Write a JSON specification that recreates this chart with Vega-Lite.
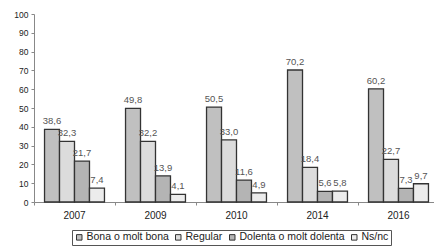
{
  "$schema": "https://vega.github.io/schema/vega-lite/v6.json",
  "width": 405,
  "height": 188,
  "autosize": "none",
  "padding": {"left": 34, "top": 14, "right": 0, "bottom": 47},
  "background": "white",
  "config": {
    "font": "Liberation Sans",
    "view": {"stroke": null},
    "locale": {"number": {"decimal": ",", "thousands": ".", "grouping": [3], "currency": ["", " €"]}}
  },
  "data": {"values": [
    {"year": "2007", "cat": "Bona o molt bona", "v": 38.6},
    {"year": "2007", "cat": "Regular", "v": 32.3},
    {"year": "2007", "cat": "Dolenta o molt dolenta", "v": 21.7},
    {"year": "2007", "cat": "Ns/nc", "v": 7.4},
    {"year": "2009", "cat": "Bona o molt bona", "v": 49.8},
    {"year": "2009", "cat": "Regular", "v": 32.2},
    {"year": "2009", "cat": "Dolenta o molt dolenta", "v": 13.9},
    {"year": "2009", "cat": "Ns/nc", "v": 4.1},
    {"year": "2010", "cat": "Bona o molt bona", "v": 50.5},
    {"year": "2010", "cat": "Regular", "v": 33.0},
    {"year": "2010", "cat": "Dolenta o molt dolenta", "v": 11.6},
    {"year": "2010", "cat": "Ns/nc", "v": 4.9},
    {"year": "2014", "cat": "Bona o molt bona", "v": 70.2},
    {"year": "2014", "cat": "Regular", "v": 18.4},
    {"year": "2014", "cat": "Dolenta o molt dolenta", "v": 5.6},
    {"year": "2014", "cat": "Ns/nc", "v": 5.8},
    {"year": "2016", "cat": "Bona o molt bona", "v": 60.2},
    {"year": "2016", "cat": "Regular", "v": 22.7},
    {"year": "2016", "cat": "Dolenta o molt dolenta", "v": 7.3},
    {"year": "2016", "cat": "Ns/nc", "v": 9.7}
  ]},
  "encoding": {
    "x": {"field": "year", "type": "nominal", "title": null,
      "scale": {"paddingInner": 0.26, "paddingOuter": 0.13},
      "axis": {"labelAngle": 0, "labelFontSize": 10, "labelColor": "#222", "labelPadding": 5,
        "domainColor": "#888", "tickColor": "#888", "tickSize": 3, "bandPosition": -0.175}},
    "xOffset": {"field": "cat", "type": "nominal",
      "sort": ["Bona o molt bona", "Regular", "Dolenta o molt dolenta", "Ns/nc"],
      "scale": {"paddingInner": 0, "paddingOuter": 0}},
    "y": {"field": "v", "type": "quantitative", "title": null,
      "scale": {"domain": [0, 100], "nice": false},
      "axis": {"values": [0, 10, 20, 30, 40, 50, 60, 70, 80, 90, 100], "grid": false,
        "labelFontSize": 8.5, "labelColor": "#222", "domainColor": "#888", "tickColor": "#888",
        "tickSize": 3, "labelPadding": 3}}
  },
  "layer": [
    {"mark": {"type": "bar", "stroke": "#333", "strokeWidth": 1.3},
      "encoding": {
        "fill": {"field": "cat", "type": "nominal",
          "sort": ["Bona o molt bona", "Regular", "Dolenta o molt dolenta", "Ns/nc"],
          "scale": {"domain": ["Bona o molt bona", "Regular", "Dolenta o molt dolenta", "Ns/nc"],
            "range": ["#c0c0c0", "#dcdcdc", "#b4b4b4", "#ececec"]},
          "legend": {"title": null, "orient": "none", "direction": "horizontal",
            "legendX": 38, "legendY": 216, "strokeColor": "#555", "padding": 2,
            "symbolType": "square", "symbolSize": 30, "symbolStrokeColor": "#333",
            "symbolStrokeWidth": 1, "labelFontSize": 10.5, "labelColor": "#222",
            "columnPadding": 4, "labelOffset": 2}}
      }},
    {"mark": {"type": "text", "dy": -8, "fontSize": 9.5, "color": "#555"},
      "encoding": {"text": {"field": "v", "type": "quantitative", "format": ".1f"}}}
  ]
}
